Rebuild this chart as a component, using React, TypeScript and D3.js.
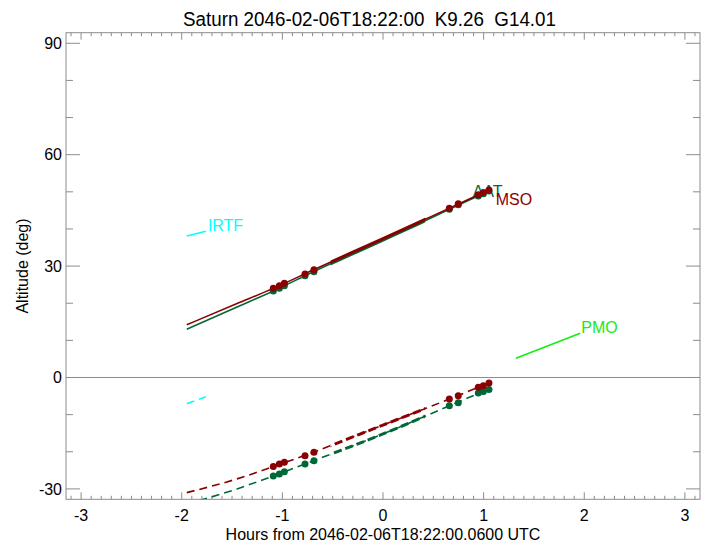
import * as d3 from 'd3';
import React, { useEffect, useRef } from 'react';

const width = 708;
const height = 544;

const title = 'Saturn 2046-02-06T18:22:00  K9.26  G14.01';
const xTitle = 'Hours from 2046-02-06T18:22:00.0600 UTC';
const yTitle = 'Altitude (deg)';

const xTicks = [-3, -2, -1, 0, 1, 2, 3];
const yTicks = [-30, 0, 30, 60, 90];

// curve vertices (hours from transit, altitude deg)
const curveHours = [-1.95, -1.45, -1.09, -0.69, 0, 0.37, 0.66, 1.05];
const msoTarget = [14.2, 19.9, 24.0, 29.0, 37.4, 42.0, 45.6, 50.5];
const aatTarget = [13.0, 19.0, 23.3, 28.5, 37.0, 41.6, 45.3, 50.2];
const msoLower = [-31.0, -27.3, -24.0, -20.1, -12.8, -8.9, -5.8, -1.5];
const aatLower = [-34.1, -30.0, -26.5, -22.4, -15.2, -11.0, -7.6, -3.2];

// exposure markers
const markHours = [-1.09, -1.03, -0.98, -0.775, -0.686, 0.659, 0.748, 0.947, 0.997, 1.053];
const msoMarks = [24.0, 24.7, 25.4, 27.9, 29.0, 45.6, 46.8, 49.2, 49.8, 50.5];
const aatMarks = [23.3, 24.0, 24.7, 27.4, 28.5, 45.3, 46.5, 48.9, 49.5, 50.2];
const msoLowerMarks = [-24.0, -23.3, -22.8, -21.1, -20.1, -5.8, -4.9, -2.6, -2.2, -1.5];
const aatLowerMarks = [-26.5, -26.0, -25.4, -23.3, -22.4, -7.6, -6.8, -4.2, -3.8, -3.2];

// short segments for the other sites
const irtfHours = [-1.95, -1.76];
const irtfTarget = [38.1, 39.4];
const irtfLower = [-7.1, -5.2];
const pmoHours = [1.32, 1.96];
const pmoTarget = [5.2, 11.9];

// thick window
const windowHours = [-0.52, 0.42];

const font = "'Liberation Sans', Arial, Helvetica, sans-serif";
const axisColor = '#8c8c8c';
const msoColor = '#8b0000';
const aatColor = '#006837';
const irtfColor = '#00ffff';
const pmoColor = '#11ee11';

const App: React.FC = () => {
  const ref = useRef<SVGSVGElement | null>(null);

  useEffect(() => {
    if (!ref.current) return;
    const svg = d3.select(ref.current);
    svg.selectAll('*').remove();

    const left = 66;
    const right = 700;
    const top = 32.7;
    const bottom = 499.3;

    const x = d3.scaleLinear().domain([-3.15, 3.15]).range([left, right]);
    const y = d3.scaleLinear().domain([-32.8, 92.85]).range([bottom, top]);

    const defs = svg.append('defs');
    defs.append('clipPath').attr('id', 'plot')
      .append('rect').attr('x', left).attr('y', top).attr('width', right - left).attr('height', bottom - top);
    defs.append('clipPath').attr('id', 'win')
      .append('rect').attr('x', x(windowHours[0])).attr('y', top)
      .attr('width', x(windowHours[1]) - x(windowHours[0])).attr('height', bottom - top);

    // frame and ticks
    const ax = svg.append('g').attr('stroke', axisColor).attr('fill', 'none').attr('stroke-width', 1);
    ax.append('rect').attr('x', left).attr('y', top).attr('width', right - left).attr('height', bottom - top);
    ax.append('line').attr('x1', left).attr('x2', right).attr('y1', y(0)).attr('y2', y(0));

    const xMinor = d3.range(-31, 32).map((d) => d / 10);
    xMinor.forEach((t) => {
      const major = Math.abs(t - Math.round(t)) < 1e-6;
      const len = major ? 7 : 3.5;
      ax.append('line').attr('x1', x(t)).attr('x2', x(t)).attr('y1', bottom).attr('y2', bottom - len);
      ax.append('line').attr('x1', x(t)).attr('x2', x(t)).attr('y1', top).attr('y2', top + len);
    });
    const yMinor = d3.range(-30, 91, 10);
    yMinor.forEach((v) => {
      const len = v % 30 === 0 ? 14 : 7;
      ax.append('line').attr('x1', left).attr('x2', left + len).attr('y1', y(v)).attr('y2', y(v));
      ax.append('line').attr('x1', right).attr('x2', right - len).attr('y1', y(v)).attr('y2', y(v));
    });

    const txt = svg.append('g').attr('font-family', font).attr('fill', '#000');
    xTicks.forEach((t) => {
      txt.append('text').attr('x', x(t)).attr('y', 521).attr('text-anchor', 'middle')
        .attr('font-size', 16).text(t);
    });
    yTicks.forEach((v) => {
      txt.append('text').attr('x', 62).attr('y', y(v) + 5.7).attr('text-anchor', 'end')
        .attr('font-size', 16).text(v);
    });
    txt.append('text').attr('x', 383).attr('y', 540).attr('text-anchor', 'middle')
      .attr('font-size', 16).text(xTitle);
    txt.append('text').attr('transform', 'translate(28,266) rotate(-90)').attr('text-anchor', 'middle')
      .attr('font-size', 16).text(yTitle);
    txt.append('text').attr('x', 183).attr('y', 26).attr('font-size', 20)
      .attr('xml:space', 'preserve').style('white-space', 'pre')
      .attr('textLength', 373).attr('lengthAdjust', 'spacingAndGlyphs').text(title);

    const plot = svg.append('g').attr('clip-path', 'url(#plot)');
    const line = d3.line<[number, number]>()
      .x((d) => x(d[0]))
      .y((d) => y(d[1]))
      .curve(d3.curveMonotoneX);

    const zip = (hs: number[], vs: number[]) => hs.map((h, i) => [h, vs[i]] as [number, number]);

    const drawCurve = (vals: number[], color: string, dashed: boolean) => {
      const pts = zip(curveHours, vals);
      plot.append('path').attr('d', line(pts)).attr('fill', 'none').attr('stroke', color)
        .attr('stroke-width', 1.6).attr('stroke-dasharray', dashed ? '8,5' : null);
      plot.append('g').attr('clip-path', 'url(#win)')
        .append('path').attr('d', line(pts)).attr('fill', 'none').attr('stroke', color)
        .attr('stroke-width', 3).attr('stroke-dasharray', dashed ? '8,4' : null);
    };
    const drawMarks = (vals: number[], color: string) => {
      plot.append('g').selectAll('circle').data(zip(markHours, vals)).enter().append('circle')
        .attr('cx', (d) => x(d[0])).attr('cy', (d) => y(d[1])).attr('r', 3.5).attr('fill', color);
    };

    // AAT
    drawCurve(aatTarget, aatColor, false);
    drawCurve(aatLower, aatColor, true);
    drawMarks(aatMarks, aatColor);
    drawMarks(aatLowerMarks, aatColor);
    const aatEnd = aatTarget[aatTarget.length - 1];
    plot.append('text').attr('x', x(curveHours[curveHours.length - 1]) - 16).attr('y', y(aatEnd) + 6)
      .attr('font-family', font).attr('font-size', 16).attr('fill', aatColor).text('AAT');

    // MSO
    drawCurve(msoTarget, msoColor, false);
    drawCurve(msoLower, msoColor, true);
    drawMarks(msoMarks, msoColor);
    drawMarks(msoLowerMarks, msoColor);
    const msoEnd = msoTarget[msoTarget.length - 1];
    plot.append('text').attr('x', x(curveHours[curveHours.length - 1]) + 7).attr('y', y(msoEnd) + 15)
      .attr('font-family', font).attr('font-size', 16).attr('fill', msoColor).text('MSO');

    // IRTF
    plot.append('path').attr('d', line(zip(irtfHours, irtfTarget))).attr('fill', 'none')
      .attr('stroke', irtfColor).attr('stroke-width', 1.6);
    plot.append('path').attr('d', line(zip(irtfHours, irtfLower))).attr('fill', 'none')
      .attr('stroke', irtfColor).attr('stroke-width', 1.6).attr('stroke-dasharray', '8,5');
    plot.append('text').attr('x', x(irtfHours[1]) + 2).attr('y', y(irtfTarget[1]))
      .attr('font-family', font).attr('font-size', 16).attr('fill', irtfColor).text('IRTF');

    // PMO
    plot.append('path').attr('d', line(zip(pmoHours, pmoTarget))).attr('fill', 'none')
      .attr('stroke', pmoColor).attr('stroke-width', 1.6);
    plot.append('text').attr('x', x(pmoHours[1]) + 1).attr('y', y(pmoTarget[1]))
      .attr('font-family', font).attr('font-size', 16).attr('fill', pmoColor).text('PMO');
  }, []);

  return (
    <svg ref={ref} width={width} height={height}
      style={{ position: 'absolute', left: 0, top: 0, background: '#fff' }} />
  );
};

export default App;
